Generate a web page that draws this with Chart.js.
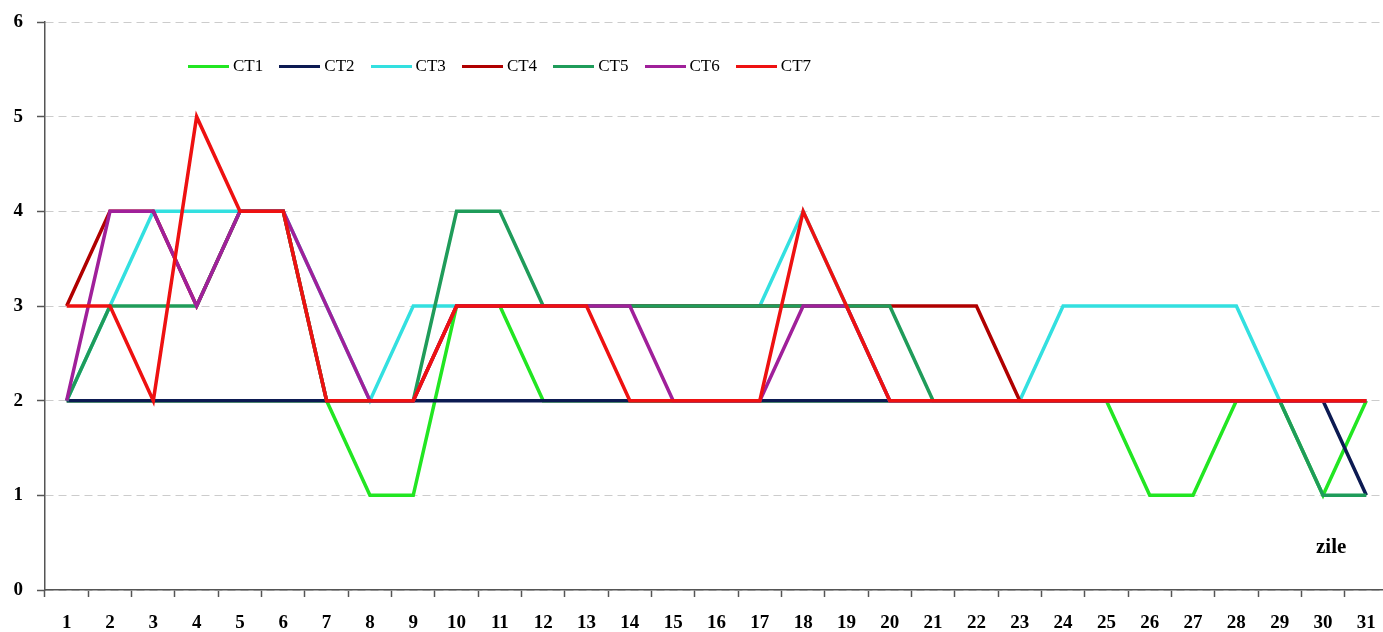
<!DOCTYPE html>
<html>
<head>
<meta charset="utf-8">
<script src="https://cdn.jsdelivr.net/npm/chart.js@4/dist/chart.umd.min.js"></script>
<style>
  html, body { margin: 0; padding: 0; background: #fff; overflow: hidden; width: 1383px; height: 632px; }
  #wrap { position: absolute; left: 0; top: 0; width: 1388px; height: 632px; }
  #legend { position: absolute; left: 0; top: 0; width: 1383px; height: 100px; pointer-events: none; }
  .item { position: absolute; top: 56px; height: 20px; display: flex; align-items: center; font-family: "Liberation Serif", "Times New Roman", serif; font-size: 17px; color: #000; white-space: nowrap; }
  .swatch { display: inline-block; width: 41px; height: 3px; margin-right: 4px; }
  #zile { position: absolute; left: 1316px; top: 534px; font-family: "Liberation Serif", "Times New Roman", serif; font-weight: bold; font-size: 21px; color: #000; }
</style>
</head>
<body>
<div id="wrap"><canvas id="c"></canvas></div>
<div id="legend"></div>
<div id="zile">zile</div>
<script>
const days = ['1','2','3','4','5','6','7','8','9','10','11','12','13','14','15','16','17','18','19','20','21','22','23','24','25','26','27','28','29','30','31'];
const seriesNames = ['CT1','CT2','CT3','CT4','CT5','CT6','CT7'];
const seriesColors = ['#22e622','#0c1a52','#33e0e0','#b00000','#1f9c5a','#a0209a','#ee1111'];

const ct1 = [2,2,2,2,2,2,2,1,1,3,3,2,2,2,2,2,2,2,2,2,2,2,2,2,2,1,1,2,2,1,2];
const ct2 = [2,2,2,2,2,2,2,2,2,2,2,2,2,2,2,2,2,2,2,2,2,2,2,2,2,2,2,2,2,2,1];
const ct3 = [2,3,4,4,4,4,3,2,3,3,3,3,3,3,3,3,3,4,3,2,2,2,2,3,3,3,3,3,2,2,2];
const ct4 = [3,4,4,3,4,4,2,2,2,3,3,3,3,3,3,3,3,3,3,3,3,3,2,2,2,2,2,2,2,2,2];
const ct5 = [2,3,3,3,4,4,2,2,2,4,4,3,3,3,3,3,3,3,3,3,2,2,2,2,2,2,2,2,2,1,1];
const ct6 = [2,4,4,3,4,4,3,2,2,3,3,3,3,3,2,2,2,3,3,2,2,2,2,2,2,2,2,2,2,2,2];
const ct7 = [3,3,2,5,4,4,2,2,2,3,3,3,3,2,2,2,2,4,3,2,2,2,2,2,2,2,2,2,2,2,2];
const yTicks = [0,1,2,3,4,5,6];

const allSeries = [ct1, ct2, ct3, ct4, ct5, ct6, ct7];

const datasets = allSeries.map((vals, i) => ({
  label: seriesNames[i],
  data: vals,
  borderColor: seriesColors[i],
  backgroundColor: seriesColors[i],
  borderWidth: 3.5,
  pointRadius: 0,
  pointHoverRadius: 0,
  tension: 0,
  fill: false,
  order: allSeries.length - i
}));

const tickFont = { family: "'Liberation Serif', 'Times New Roman', serif", size: 19, weight: 'bold' };

new Chart(document.getElementById('c'), {
  type: 'line',
  data: { labels: days, datasets: datasets },
  options: {
    responsive: true,
    maintainAspectRatio: false,
    animation: false,
    layout: { padding: { top: 22, left: 0, right: 0, bottom: 0 } },
    plugins: { legend: { display: false }, tooltip: { enabled: false } },
    scales: {
      x: {
        type: 'category',
        offset: true,
        grid: { offset: true, drawOnChartArea: false, drawTicks: true, tickLength: 7, tickColor: '#555', tickWidth: 1.5 },
        border: { display: true, color: '#555', width: 1.5 },
        ticks: { font: tickFont, color: '#000', padding: 15, maxRotation: 0, autoSkip: false },
        afterFit: (s) => { s.height = 42; s.paddingLeft = 0; s.paddingRight = 0; }
      },
      y: {
        min: 0, max: 6,
        afterBuildTicks: (s) => { s.ticks = yTicks.map(v => ({ value: v })); },
        grid: { color: '#cccccc', lineWidth: 1, drawTicks: true, tickLength: 8, tickColor: '#555', tickWidth: 1.5, tickBorderDash: [] },
        border: { display: true, color: '#555', width: 1.5, dash: [8, 5] },
        ticks: { font: tickFont, color: '#000', padding: 14 },
        afterFit: (s) => { s.width = 45; s.paddingTop = 0; s.paddingBottom = 0; }
      }
    }
  }
});

// HTML legend built from the series names and colours
const legendEl = document.getElementById('legend');
seriesNames.forEach((name, i) => {
  const item = document.createElement('div');
  item.className = 'item';
  item.style.left = (188 + i * 91.3) + 'px';
  const sw = document.createElement('span');
  sw.className = 'swatch';
  sw.style.background = seriesColors[i];
  const tx = document.createElement('span');
  tx.textContent = name;
  item.appendChild(sw);
  item.appendChild(tx);
  legendEl.appendChild(item);
});
</script>
</body>
</html>
